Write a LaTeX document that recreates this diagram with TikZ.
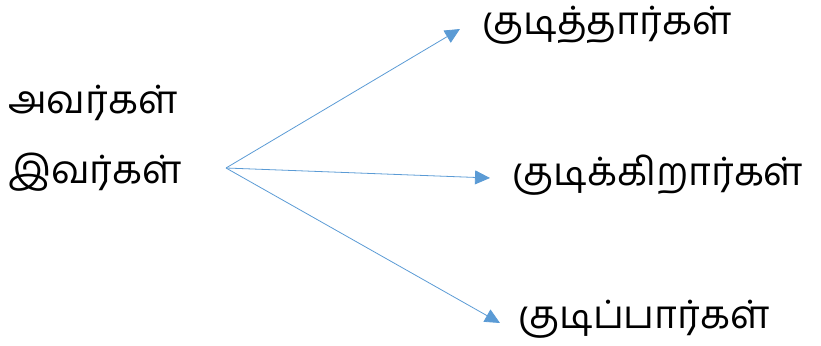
\documentclass[tikz,border=0pt]{standalone}
\usepackage{fontspec}
\newfontfamily\tamilfont[Script=Tamil]{Hind Madurai}
\usetikzlibrary{arrows.meta,positioning}

\begin{document}
\begin{tikzpicture}[x=1pt,y=1pt,
		word/.style={anchor=west, inner sep=0pt, font=\tamilfont\fontsize{39}{46}\selectfont},
		link/.style={draw={rgb,255:red,91;green,155;blue,213}, line width=0.8pt,
			-{Triangle[length=15pt,width=14pt]}}]
	\useasboundingbox (0,0) rectangle (821,345);
	%\draw [help lines] (0,0) grid[step=50] (821,345);
	\node[word] (avar) at (8,242) {அவர்கள்};
	\node[word] (ivar) at (8,173) {இவர்கள்};
	\coordinate (src) at (226,177);
	%ends
	\coordinate (past) at (460,316);
	\coordinate (pres) at (490,167);
	\coordinate (fut) at (500,22);
	\node[word] (kudi1) at (482,320) {குடித்தார்கள்};
	\node[word] (kudi2) at (512,170) {குடிக்கிறார்கள்};
	\node[word] (kudi3) at (518,26) {குடிப்பார்கள்};
	\draw[link] (src) -- (past);
	\draw[link] (src) -- (pres);
	\draw[link] (src) -- (fut);
\end{tikzpicture}
\end{document}
